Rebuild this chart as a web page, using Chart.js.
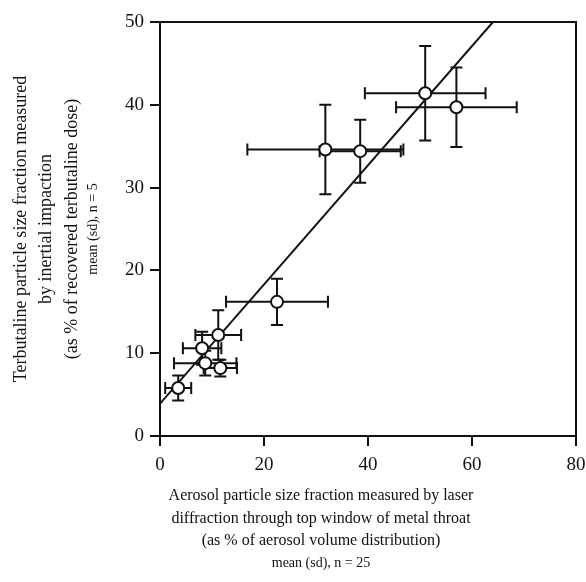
<!DOCTYPE html>
<html>
<head>
<meta charset="utf-8">
<script src="https://cdn.jsdelivr.net/npm/chart.js@4"></script>
<style>
  html, body { margin: 0; padding: 0; background: #fff; }
  #wrap { width: 586px; height: 582px; }
</style>
</head>
<body>
<div id="wrap"><canvas id="chart" width="586" height="582"></canvas></div>
<script>
let laserX = [3.5, 8.1, 8.7, 11.6, 11.2, 22.5, 31.8, 38.5, 51.0, 57.0];
let impactY = [5.8, 10.6, 8.8, 8.2, 12.2, 16.2, 34.6, 34.4, 41.4, 39.7];
let sdX = [2.5, 3.7, 6.0, 3.2, 4.4, 9.8, 15.0, 7.8, 11.6, 11.6];
let sdY = [1.5, 2.0, 1.5, 1.0, 3.0, 2.8, 5.4, 3.8, 5.7, 4.8];

// fitted line
let fitIntercept = 3.9;
let fitSlope = 0.72;
let fitEndX = (50 - fitIntercept) / fitSlope;

let xTicks = [0, 20, 40, 60, 80];
let yTicks = [0, 10, 20, 30, 40, 50];

let xTitle = ['Aerosol particle size fraction measured by laser',
    'diffraction through top window of metal throat',
    '(as % of aerosol volume distribution)'];
let xNote = 'mean (sd), n = 25';
let yTitle = ['Terbutaline particle size fraction measured',
    'by inertial impaction',
    '(as % of recovered terbutaline dose)'];
let yNote = 'mean (sd), n = 5';

let serif = "'Liberation Serif', 'DejaVu Serif', serif";

let points = laserX.map((x, i) => ({ x: x, y: impactY[i] }));

// error bars, box and axis titles
let extras = {
    id: 'extras',
    beforeDatasetsDraw(chart) {
        let ctx = chart.ctx;
        let xs = chart.scales.x, ys = chart.scales.y;
        let cap = 6;
        ctx.save();
        ctx.strokeStyle = '#111';
        ctx.lineWidth = 2;
        for (let i = 0; i < laserX.length; i++) {
            let px = xs.getPixelForValue(laserX[i]);
            let py = ys.getPixelForValue(impactY[i]);
            let x0 = xs.getPixelForValue(laserX[i] - sdX[i]);
            let x1 = xs.getPixelForValue(laserX[i] + sdX[i]);
            let y0 = ys.getPixelForValue(impactY[i] - sdY[i]);
            let y1 = ys.getPixelForValue(impactY[i] + sdY[i]);
            ctx.beginPath();
            ctx.moveTo(x0, py); ctx.lineTo(x1, py);
            ctx.moveTo(x0, py - cap); ctx.lineTo(x0, py + cap);
            ctx.moveTo(x1, py - cap); ctx.lineTo(x1, py + cap);
            ctx.moveTo(px, y0); ctx.lineTo(px, y1);
            ctx.moveTo(px - cap, y0); ctx.lineTo(px + cap, y0);
            ctx.moveTo(px - cap, y1); ctx.lineTo(px + cap, y1);
            ctx.stroke();
        }
        ctx.restore();
    },
    afterDraw(chart) {
        let ctx = chart.ctx;
        let a = chart.chartArea;
        ctx.save();
        ctx.strokeStyle = '#111';
        ctx.lineWidth = 2;
        ctx.strokeRect(a.left, a.top, a.right - a.left, a.bottom - a.top);

        ctx.fillStyle = '#111';
        ctx.textAlign = 'center';
        ctx.textBaseline = 'middle';
        let cx = 321;
        ctx.font = '16px ' + serif;
        xTitle.forEach((t, i) => ctx.fillText(t, cx, 496 + i * 22.5));
        ctx.font = '14px ' + serif;
        ctx.fillText(xNote, cx, 563);

        let cy = (a.top + a.bottom) / 2;
        ctx.translate(0, cy);
        ctx.rotate(-Math.PI / 2);
        ctx.font = '18px ' + serif;
        yTitle.forEach((t, i) => ctx.fillText(t, 0, 21 + i * 25.5));
        ctx.font = '14px ' + serif;
        ctx.fillText(yNote, 0, 93);
        ctx.restore();
    }
};

let ctx = document.getElementById('chart').getContext('2d');
let chart = new Chart(ctx, {
    type: 'scatter',
    data: {
        datasets: [
            {
                label: 'fit',
                type: 'line',
                data: [{ x: 0, y: fitIntercept }, { x: fitEndX, y: fitIntercept + fitSlope * fitEndX }],
                borderColor: '#111',
                borderWidth: 2,
                pointRadius: 0,
                fill: false,
                order: 2
            },
            {
                label: 'samples',
                data: points,
                pointRadius: 6,
                pointHoverRadius: 6,
                pointBackgroundColor: '#fff',
                pointBorderColor: '#111',
                pointBorderWidth: 2,
                order: 1
            }
        ]
    },
    options: {
        responsive: false,
        animation: false,
        events: [],
        layout: { padding: { left: 0, right: 0, top: 22, bottom: 0 } },
        plugins: {
            legend: { display: false },
            tooltip: { enabled: false }
        },
        scales: {
            x: {
                type: 'linear',
                min: 0,
                max: 80,
                afterBuildTicks(scale) { scale.ticks = xTicks.map(v => ({ value: v })); },
                afterFit(scale) {
                    scale.height = 146;
                    scale.paddingRight = 10;
                    scale.paddingLeft = 0;
                },
                border: { display: true, color: '#111', width: 2 },
                grid: { drawOnChartArea: false, color: '#111', lineWidth: 2, tickLength: 10 },
                ticks: { color: '#111', padding: 8, font: { family: serif, size: 19 } }
            },
            y: {
                type: 'linear',
                min: 0,
                max: 50,
                afterBuildTicks(scale) { scale.ticks = yTicks.map(v => ({ value: v })); },
                afterFit(scale) { scale.width = 160; },
                border: { display: true, color: '#111', width: 2 },
                grid: { drawOnChartArea: false, color: '#111', lineWidth: 2, tickLength: 10 },
                ticks: { color: '#111', padding: 6, font: { family: serif, size: 19 } }
            }
        }
    },
    plugins: [extras]
});
</script>
</body>
</html>
